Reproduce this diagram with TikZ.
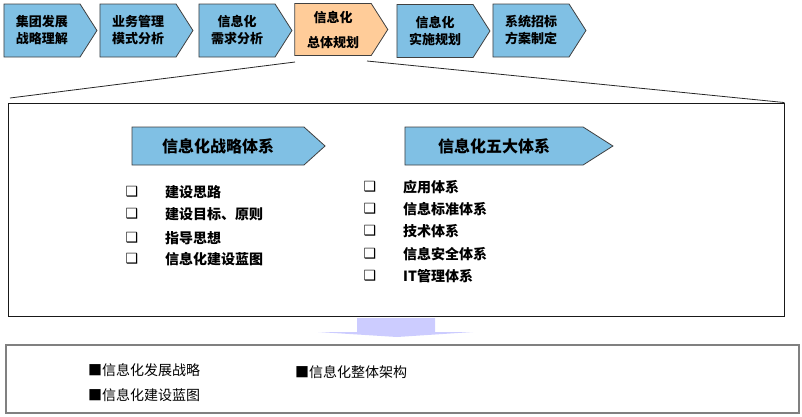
\documentclass[tikz,border=0pt]{standalone}
\usepackage{fontspec}
\setmainfont{Noto Sans CJK SC}
\newfontfamily\symfont{DejaVu Sans}
\usepackage{tikz}
\usetikzlibrary{%
	shapes.symbols,%
	calc
}
\definecolor{stepblue}{RGB}{128,192,228}
\definecolor{steporange}{RGB}{255,204,153}
\definecolor{flowlilac}{RGB}{204,204,255}
\definecolor{framegray}{RGB}{128,128,128}

\tikzset{
	chevron/.style={shape=signal, signal to=east, draw=black!75, line width=0.8pt, inner sep=0pt, align=center},
	stepchev/.style={chevron, fill=stepblue, minimum width=93pt, minimum height=53pt, signal pointer angle=115, font=\bfseries\fontsize{13}{17}\selectfont},
	titlechev/.style={chevron, fill=stepblue, minimum height=38pt, font=\bfseries\fontsize{16}{18}\selectfont},
	chk/.style={font=\symfont\fontsize{14}{14}\selectfont, inner sep=0pt},
	itemtext/.style={anchor=west, inner sep=0pt, font=\bfseries\fontsize{14}{14}\selectfont},
	resulttext/.style={anchor=west, inner sep=0pt, font=\fontsize{14}{14}\selectfont}
}

\begin{document}
\begin{tikzpicture}[x=1pt, y=-1pt]
	\useasboundingbox (0,0) rectangle (802,416);
	% Steps
	\node[stepchev] (s1) at (42,30.5) {集团发展\\战略理解};
	\node[stepchev] (s2) at (138,30.5) {业务管理\\模式分析};
	\node[stepchev] (s3) at (237,30.5) {信息化\\需求分析};
	\node[stepchev, fill=steporange, minimum height=52pt] (s4) at (333,29.5) {信息化\\[8pt]总体规划};
	\node[stepchev] (s5) at (435,31) {信息化\\实施规划};
	\node[stepchev] (s6) at (531,30.5) {系统招标\\方案制定};
	% Zoom lines
	\node[draw=black!90, line width=0.9pt, minimum width=776pt, minimum height=213pt, inner sep=0pt] (main) at (396,209.5) {};
	\coordinate (zl) at (295,62);
	\coordinate (zr) at (367,61);
	\coordinate (ml) at (10,98);
	\draw[black!85, line width=0.8pt] (zl) -- (ml);
	\draw[black!85, line width=0.8pt] (zr) -- (main.north east);
	% Two systems
	\node[titlechev, minimum width=193pt, signal pointer angle=84] (strat) at (218,146) {信息化战略体系};
	\node[titlechev, minimum width=208pt, signal pointer angle=65] (five) at (494,146) {信息化五大体系};
	% Left list
	\node[chk] (c1) at (132,192) {❑}; \node[itemtext] (l1) at (165,192) {建设思路};
	\node[chk] (c2) at (132,214) {❑}; \node[itemtext] (l2) at (165,214) {建设目标、原则};
	\node[chk] (c3) at (132,238) {❑}; \node[itemtext] (l3) at (165,238) {指导思想};
	\node[chk] (c4) at (132,259) {❑}; \node[itemtext] (l4) at (165,259) {信息化建设蓝图};
	% Right list
	\node[chk] (d1) at (370,187) {❑}; \node[itemtext] (r1) at (403,187) {应用体系};
	\node[chk] (d2) at (370,209) {❑}; \node[itemtext] (r2) at (403,209) {信息标准体系};
	\node[chk] (d3) at (370,231) {❑}; \node[itemtext] (r3) at (403,231) {技术体系};
	\node[chk] (d4) at (370,254) {❑}; \node[itemtext] (r4) at (403,254) {信息安全体系};
	\node[chk] (d5) at (370,276) {❑}; \node[itemtext] (r5) at (403,276) {IT管理体系};
	% Flow arrow
	\fill[flowlilac] (357,318) -- (435,318) -- (435,332) -- (473,332) -- (397,337) -- (318,332) -- (357,332) -- cycle;
	% Result
	\node[draw=framegray, line width=1.5pt, minimum width=793pt, minimum height=68pt, inner sep=0pt] (result) at (402.5,379) {};
	\node[resulttext] (o1) at (88,370) {■信息化发展战略};
	\node[resulttext] (o2) at (88,395) {■信息化建设蓝图};
	\node[resulttext] (o3) at (295,372) {■信息化整体架构};
\end{tikzpicture}
\end{document}
